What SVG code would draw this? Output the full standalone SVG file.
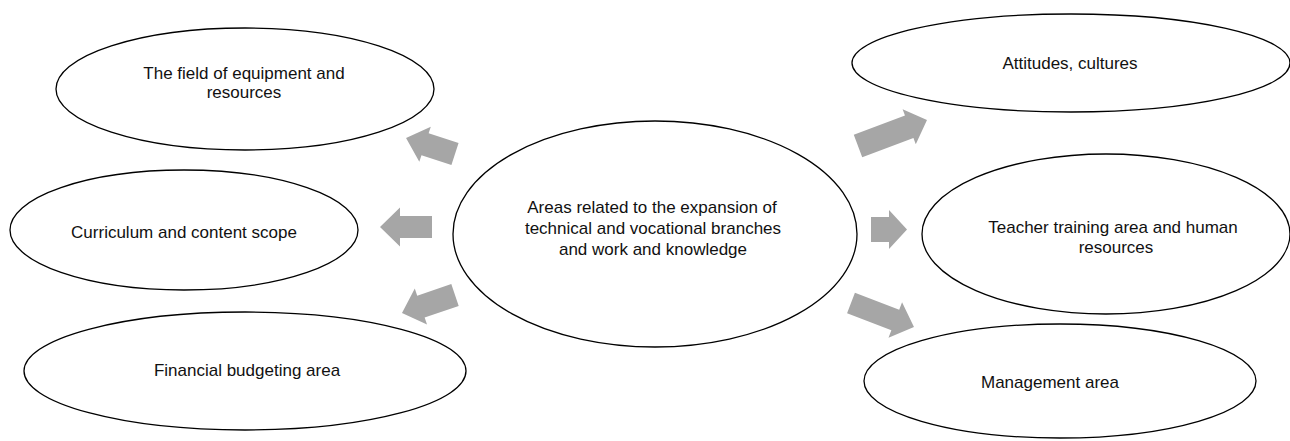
<svg xmlns="http://www.w3.org/2000/svg" width="1290" height="441" viewBox="0 0 1290 441">
  <style>
    .node ellipse { fill: #ffffff; stroke: #000000; stroke-width: 1.3; }
    .node text { font-family: "Liberation Sans", Arial, sans-serif; font-size: 17px; fill: #111111; text-anchor: middle; }
    .arrow { fill: #a6a6a6; stroke: none; }
  </style>
  <rect width="1290" height="441" fill="#ffffff"/>

  <!-- satellite areas, left side -->
  <g id="equipment" class="node">
    <ellipse cx="245" cy="89" rx="189" ry="61"/>
    <text x="244" y="79">The field of equipment and</text>
    <text x="244" y="98">resources</text>
  </g>
  <g id="curriculum" class="node">
    <ellipse cx="184" cy="230" rx="174" ry="60"/>
    <text x="184" y="238">Curriculum and content scope</text>
  </g>
  <g id="budgeting" class="node">
    <ellipse cx="245" cy="371" rx="221" ry="59"/>
    <text x="247" y="376">Financial budgeting area</text>
  </g>

  <!-- central topic -->
  <g id="core" class="node">
    <ellipse cx="655" cy="234" rx="202" ry="113"/>
    <text x="652" y="213">Areas related to the expansion of</text>
    <text x="653" y="234">technical and vocational branches</text>
    <text x="653" y="255">and work and knowledge</text>
  </g>

  <!-- satellite areas, right side -->
  <g id="attitudes" class="node">
    <ellipse cx="1071" cy="63" rx="219" ry="49"/>
    <text x="1070" y="69">Attitudes, cultures</text>
  </g>
  <g id="teachers" class="node">
    <ellipse cx="1106" cy="234" rx="184" ry="80"/>
    <text x="1113" y="233">Teacher training area and human</text>
    <text x="1116" y="253">resources</text>
  </g>
  <g id="management" class="node">
    <ellipse cx="1060" cy="381" rx="196" ry="57"/>
    <text x="1050" y="388">Management area</text>
  </g>

  <!-- block arrows pointing out from the central topic -->
  <g id="connectors">
    <path class="arrow" transform="translate(455,154) rotate(198.1)" d="M0,-11.5 L31.5,-11.5 L31.5,-18.5 L51.5,0 L31.5,18.5 L31.5,11.5 L0,11.5 Z"/>
    <path class="arrow" transform="translate(432,227) rotate(180)" d="M0,-11 L32,-11 L32,-19.5 L52,0 L32,19.5 L32,11 L0,11 Z"/>
    <path class="arrow" transform="translate(455,295) rotate(161.2)" d="M0,-11.5 L36,-11.5 L36,-19 L56,0 L36,19 L36,11.5 L0,11.5 Z"/>
    <path class="arrow" transform="translate(858,146) rotate(-20.6)" d="M0,-12 L54.7,-12 L54.7,-18.7 L73.7,0 L54.7,18.7 L54.7,12 L0,12 Z"/>
    <path class="arrow" transform="translate(871,229.5)" d="M0,-12.5 L18,-12.5 L18,-19.5 L36,0 L18,19.5 L18,12.5 L0,12.5 Z"/>
    <path class="arrow" transform="translate(851,303) rotate(20.9)" d="M0,-11 L47.4,-11 L47.4,-19 L67.4,0 L47.4,19 L47.4,11 L0,11 Z"/>
  </g>
</svg>
